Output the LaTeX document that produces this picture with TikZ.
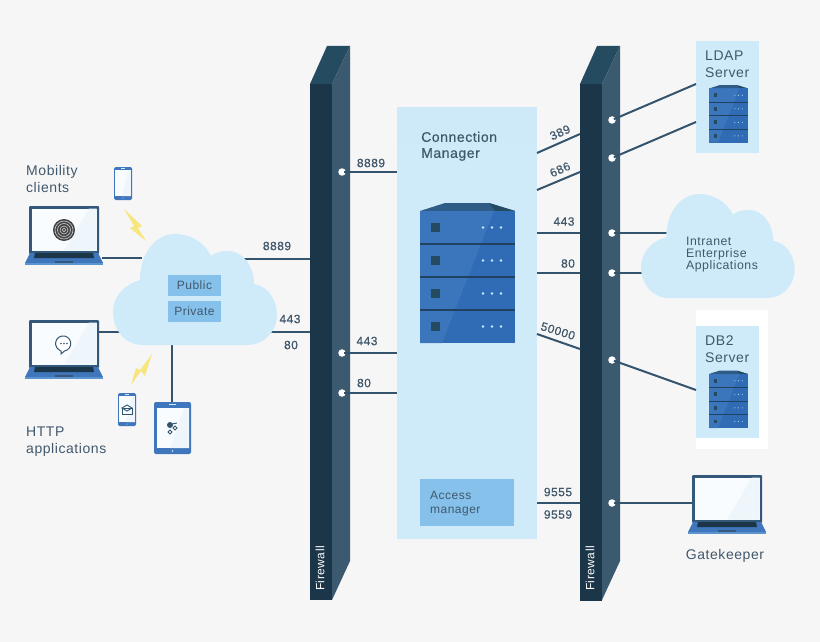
\documentclass[tikz,border=0pt]{standalone}
\usepackage{fontspec}
\setmainfont[LetterSpace=4]{Liberation Sans}
\newfontfamily\medfont[LetterSpace=4,FakeBold=0.5]{Liberation Sans}
\usetikzlibrary{positioning}

\definecolor{pagegray}{HTML}{F6F6F6}
\definecolor{paleblue}{HTML}{CFEBFA}
\definecolor{bandblue}{HTML}{CEEAF9}
\definecolor{midblue}{HTML}{85C1EA}
\definecolor{linkblue}{HTML}{34546E}
\definecolor{textblue}{HTML}{41586C}
\definecolor{wallfront}{HTML}{1C3649}
\definecolor{wallside}{HTML}{3C5A6F}
\definecolor{walltop}{HTML}{254B61}
\definecolor{rackdark}{HTML}{306CB5}
\definecolor{racklight}{HTML}{3B75BB}
\definecolor{rackroof}{HTML}{2E5C86}
\definecolor{framedark}{HTML}{34587A}
\definecolor{devblue}{HTML}{3F76BC}
\definecolor{bolt}{HTML}{F7E67E}

\tikzset{
  link/.style={draw=linkblue, line width=2pt},
  portlink/.style={link, shorten <=2pt},
  port/.style={circle, fill=white, minimum size=7.5pt, inner sep=0pt, outer sep=0pt},
  wall/.style={fill=wallfront, minimum width=22pt, inner sep=0pt, outer sep=0pt},
  panel/.style={fill=paleblue, inner sep=0pt, outer sep=0pt},
  tag/.style={fill=midblue, inner sep=0pt, outer sep=0pt, text=textblue},
  label/.style={text=textblue, inner sep=0pt, font=\fontsize{14}{16.7}\selectfont, align=left},
  smalllabel/.style={text=textblue, inner sep=0pt, font=\fontsize{12.3}{12}\selectfont, align=left},
  portnum/.style={text=textblue, inner sep=0pt, font=\medfont\fontsize{12}{14}\selectfont},
  wallname/.style={text=white, inner sep=0pt, rotate=90, anchor=west, font=\fontsize{12}{14}\selectfont},
  % firewall block, origin at the top left of the front face
  firewall/.pic={
    \fill[walltop] (0,38) -- (17,0) -- (40,0) -- (22,38) -- cycle;
    \fill[wallside] (22,38) -- (40,0) -- (40,515) -- (22,554) -- cycle;
  },
  % rack with four drawers, origin at the top left of the body
  rackserver/.pic={
    \fill[rackroof] (0,0) -- (25,-8) -- (69,-8) -- (95,0) -- cycle;
    \fill[walltop] (69,-8) -- (95,0) -- (75,0) -- cycle;
    \fill[rackdark] (0,0) rectangle (95,132);
    \fill[racklight] (0,0) -- (74,0) -- (22,132) -- (0,132) -- cycle;
    \foreach \row in {0,1,2,3} {
      \fill[walltop] (11,12+33*\row) rectangle (20,21+33*\row);
      \foreach \col in {63,72,81}
        \fill[paleblue] (\col,16.5+33*\row) circle (1.3);
    }
    \foreach \row in {1,2,3}
      \fill[wallfront!80!rackdark] (0,33*\row-.6) rectangle (95,33*\row+.6);
  },
  % laptop, origin at the top left of the screen
  laptop/.pic={
    \fill[framedark, rounded corners=1pt] (0,0) rectangle (70,48);
    \fill[white!95!midblue] (2.5,2.5) rectangle (67.5,44.5);
    \fill[midblue!14] (67.5,2.5) -- (67.5,44.5) -- (35,44.5) -- (60,2.5) -- cycle;
    \fill[devblue] (1,47) -- (69,47) -- (74,57) -- (-4,57) -- cycle;
    \fill[devblue!60!midblue] (-4,57) rectangle (74,59);
    \fill[wallfront] (6,47) -- (64,47) -- (65,52) -- (5,52) -- cycle;
    \fill[framedark] (26,54.5) rectangle (44,56.7);
  },
  % phone, origin at the top left
  handset/.pic={
    \fill[devblue, rounded corners=1.5pt] (0,0) rectangle (18,33);
    \fill[white!95!midblue] (1.2,3.4) rectangle (16.8,29.2);
    \fill[midblue!14] (16.8,3.4) -- (16.8,29.2) -- (8,29.2) -- (14,3.4) -- cycle;
    \fill[paleblue] (7,1.4) rectangle (11,2);
    \fill[paleblue] (9,31.2) circle (.5);
  },
  % tablet, origin at the top left
  slate/.pic={
    \fill[devblue, rounded corners=2pt] (0,0) rectangle (37,52);
    \fill[white!95!midblue] (3,6) rectangle (35,46);
    \fill[midblue!14] (35,6) -- (35,46) -- (16,46) -- (30,6) -- cycle;
    \fill[paleblue] (15,2.4) rectangle (22,3.4);
    \fill[paleblue] (18.5,49) circle (.8);
  },
  % cloud, origin at the top left of its extent
  cloudshape/.pic={
    \fill[paleblue] (30,111)
      .. controls (12,111) and (0,96) .. (0,78)
      .. controls (0,62) and (12,50) .. (27,46)
      .. controls (27,20) and (42,0) .. (62,0)
      .. controls (78,0) and (92,9) .. (98,22)
      .. controls (103,18) and (108,17) .. (115,17)
      .. controls (130,17) and (141,32) .. (141,50)
      .. controls (155,52) and (164,66) .. (164,81)
      .. controls (164,98) and (150,111) .. (135,111) -- cycle;
  },
}

\begin{document}
\begin{tikzpicture}[x=1pt, y=-1pt]

\useasboundingbox (0,0) rectangle (820,642);
\fill[pagegray] (0,0) rectangle (820,642);

% Panels behind everything
\node[panel, minimum width=140pt, minimum height=432pt] (manager) at (467,323) {};
\fill[bandblue] (397,107) rectangle (537,145);
\fill[white] (696,310) rectangle (768,449);
\node[panel, minimum width=63pt, minimum height=112pt] (ldap) at (727.5,97) {};
\node[panel, minimum width=63pt, minimum height=112pt] (db) at (727.5,382) {};

% Firewalls
\pic at (310,46) {firewall};
\pic at (580,46) {firewall};
\node[wall, minimum height=516pt] (leftwall) at (321,342) {};
\node[wall, minimum height=517pt] (rightwall) at (591,342.5) {};
\node[wallname] (leftname) at (320,591) {Firewall};
\node[wallname] (rightname) at (590,591) {Firewall};

% Ports on the firewalls
\node[port] (pa) at (342,172) {};
\node[port] (pb) at (342,353) {};
\node[port] (pc) at (342,393) {};
\node[port] (qa) at (612,120) {};
\node[port] (qb) at (612,158) {};
\node[port] (qc) at (612,233) {};
\node[port] (qd) at (612,273) {};
\node[port] (qe) at (612,360) {};
\node[port] (qf) at (612,503) {};

% Named ends of the links
\coordinate (lapa) at (102,258);
\coordinate (lapb) at (98,332);
\coordinate (lapc) at (692,503);
\coordinate (cloudtop) at (200,259);
\coordinate (cloudlow) at (200,332);
\coordinate (cloudleft) at (142,258);
\coordinate (cloudleftb) at (140,332);
\coordinate (cloudfoot) at (172,340);
\coordinate (tablet) at (172,403);
\coordinate (mgra) at (537,153);
\coordinate (mgrb) at (537,190);
\coordinate (mgrc) at (537,334);
\coordinate (wala) at (580,134);
\coordinate (walb) at (580,172);
\coordinate (walc) at (580,349);
\coordinate (ldapa) at (696,84);
\coordinate (ldapb) at (696,122);
\coordinate (dbin) at (696,390);
\coordinate (intraa) at (680,233);
\coordinate (intrab) at (680,273);

% Links
\draw[link] (lapa) -- (cloudleft);
\draw[link] (lapb) -- (cloudleftb);
\draw[link] (cloudfoot) -- (tablet);
\draw[link] (cloudtop) -- (cloudtop -| leftwall.west);
\draw[link] (cloudlow) -- (cloudlow -| leftwall.west);
\draw[portlink] (pa.center) -- (pa -| manager.west);
\draw[portlink] (pb.center) -- (pb -| manager.west);
\draw[portlink] (pc.center) -- (pc -| manager.west);
\draw[link] (mgra) -- (wala);
\draw[link] (mgrb) -- (walb);
\draw[link] (mgrc) -- (walc);
\draw[link] (qc -| manager.east) -- (qc -| rightwall.west);
\draw[link] (qd -| manager.east) -- (qd -| rightwall.west);
\draw[link] (qf -| manager.east) -- (qf -| rightwall.west);
\draw[portlink] (qa.center) -- (ldapa);
\draw[portlink] (qb.center) -- (ldapb);
\draw[portlink] (qe.center) -- (dbin);
\draw[portlink] (qc.center) -- (intraa);
\draw[portlink] (qd.center) -- (intrab);
\draw[portlink] (qf.center) -- (lapc);

% Clouds
\pic at (113,234) {cloudshape};
\pic[scale=.937] at (641,194) {cloudshape};
\node[tag, minimum width=53pt, minimum height=21pt, font=\fontsize{12}{14}\selectfont] (public) at (194.5,285.5) {Public};
\node[tag, minimum width=53pt, minimum height=21pt, font=\fontsize{12}{14}\selectfont] (private) at (194.5,311.5) {Private};
\node[smalllabel, anchor=west] (intranet) at (686,255) {Intranet\\Enterprise\\Applications};

% Servers
\pic at (420,211) {rackserver};
\pic[scale=.41] at (709,88.5) {rackserver};
\pic[scale=.41] at (709,374) {rackserver};

% Laptops
\pic at (29,206) {laptop};
\pic at (29,320) {laptop};
\pic at (692,475) {laptop};

% Finger mark on the first screen
\fill[black!75] (64,230) circle (11);
\foreach \rad in {9,6.5,4,1.8}
  \draw[white!75!black, line width=.7pt] (64,230) circle (\rad);

% Speech bubble on the second screen
\draw[linkblue, line width=1pt, fill=white] (61,351) -- (61,354) -- (64.5,351) arc (80:-240:7.6) -- cycle;
\foreach \dx in {61,64,67}
  \fill[linkblue] (\dx,343.5) circle (.9);

% Phones and tablet
\pic at (114,167) {handset};
\pic at (118,393) {handset};
\pic at (154,402) {slate};
\draw[linkblue, line width=.9pt] (122,408) rectangle (132,414);
\draw[linkblue, line width=.9pt] (122,408) -- (127,405) -- (132,408) -- (127,411) -- cycle;
\fill[linkblue] (170,425) circle (3);
\draw[linkblue, line width=.9pt] (175,428) circle (1.9) (170,432) circle (1.9) (172,424) -- (177,423);

% Lightning
\fill[bolt] (124,209) -- (142,226) -- (138,228) -- (146,241) -- (130,228) -- (134,226) -- cycle;
\fill[bolt] (152,354) -- (145,376) -- (141,371) -- (131,385) -- (136,368) -- (140,370) -- cycle;

% Text
\node[label, anchor=north west] (mobility) at (26,165) {Mobility\\clients};
\node[label, anchor=north west] (http) at (26,426.5) {HTTP\\applications};
\node[label, anchor=north west, font=\medfont\fontsize{14}{16}\selectfont] (mgrname) at (421,131.5) {Connection\\Manager};
\node[label, anchor=north west] (ldapname) at (705,51) {LDAP\\Server};
\node[label, anchor=north west] (dbname) at (705,336) {DB2\\Server};
\node[label, anchor=center] (gate) at (725,556) {Gatekeeper};
\node[tag, minimum width=94pt, minimum height=47pt] (access) at (467,502.5) {};
\node[smalllabel, anchor=west, font=\fontsize{12}{14}\selectfont] (accessname) at (430,503.5) {Access\\manager};

% Port numbers
\node[portnum] (na) at (277,246) {8889};
\node[portnum] (nb) at (290,319) {443};
\node[portnum] (nc) at (291,345) {80};
\node[portnum] (nd) at (371,163) {8889};
\node[portnum] (ne) at (367,341) {443};
\node[portnum] (nf) at (364,383) {80};
\node[portnum, rotate=24] (ng) at (560,132.5) {389};
\node[portnum, rotate=24] (nh) at (560,169.5) {686};
\node[portnum] (ni) at (564,221.5) {443};
\node[portnum] (nj) at (568,263.5) {80};
\node[portnum, rotate=-17] (nk) at (558,331) {50000};
\node[portnum] (nl) at (558,492) {9555};
\node[portnum] (nm) at (558,514.5) {9559};

\end{tikzpicture}
\end{document}
